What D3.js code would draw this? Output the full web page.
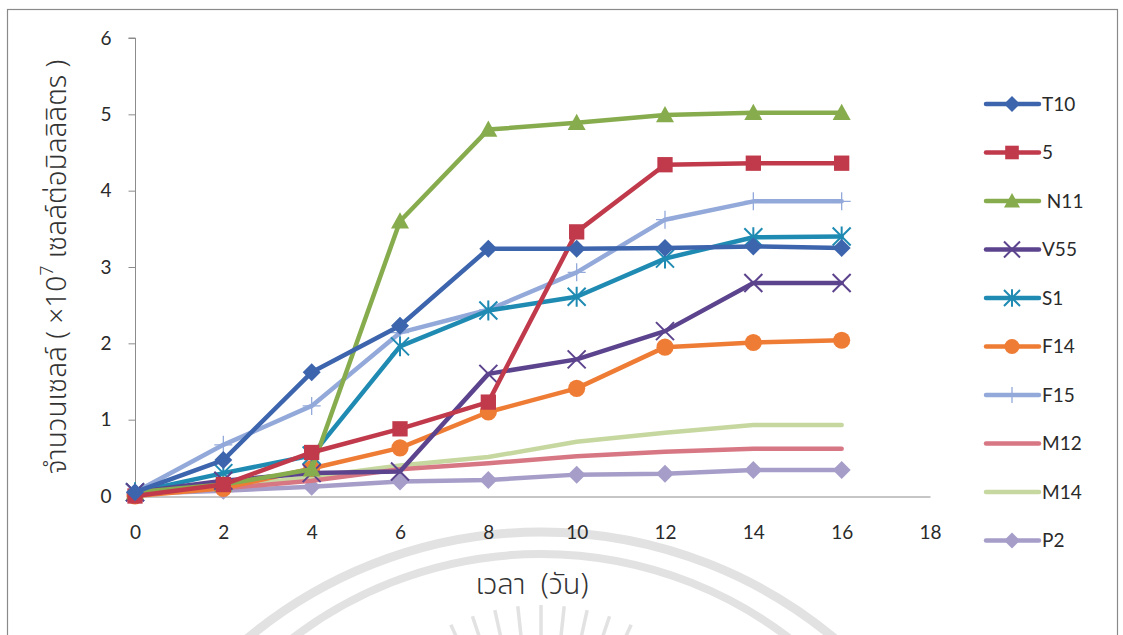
<!DOCTYPE html>
<html>
<head>
<meta charset="utf-8">
<script src="https://cdn.jsdelivr.net/npm/d3@7"></script>
<style>
  html, body { margin: 0; padding: 0; background: #ffffff; }
  svg { display: block; }
  text { font-family: Lato, "Open Sans", "Noto Sans", sans-serif; }
  .thai { font-family: "Noto Sans Thai", "Noto Sans Thai Looped", "Noto Sans", sans-serif; font-weight: 300; }
</style>
</head>
<body>
<svg id="chart" width="1123" height="635"></svg>
<script>
// Growth of each strain over time (cells x10^7 per mL)
const days = [0, 2, 4, 6, 8, 10, 12, 14, 16];
const xTicks = [0, 2, 4, 6, 8, 10, 12, 14, 16, 18];
const yTicks = [0, 1, 2, 3, 4, 5, 6];

const seriesNames = ["T10", "5", "N11", "V55", "S1", "F14", "F15", "M12", "M14", "P2"];
const legendLabels = ["T10", "5", " N11", "V55", "S1", "F14", "F15", "M12", "M14", "P2"];

const T10 = [0.05, 0.47, 1.62, 2.23, 3.24, 3.24, 3.25, 3.27, 3.25];
const S5  = [0.00, 0.15, 0.57, 0.88, 1.23, 3.46, 4.34, 4.36, 4.36];
const N11 = [0.05, 0.15, 0.35, 3.60, 4.80, 4.89, 4.99, 5.02, 5.02];
const V55 = [0.05, 0.20, 0.30, 0.32, 1.60, 1.79, 2.16, 2.79, 2.79];
const S1  = [0.05, 0.30, 0.53, 1.96, 2.43, 2.61, 3.11, 3.39, 3.40];
const F14 = [0.00, 0.10, 0.36, 0.63, 1.10, 1.41, 1.95, 2.01, 2.04];
const F15 = [0.05, 0.67, 1.18, 2.14, 2.44, 2.93, 3.62, 3.86, 3.86];
const M12 = [0.05, 0.10, 0.20, 0.35, 0.43, 0.52, 0.58, 0.62, 0.62];
const M14 = [0.05, 0.12, 0.25, 0.40, 0.51, 0.71, 0.83, 0.93, 0.93];
const P2  = [0.03, 0.07, 0.12, 0.19, 0.21, 0.28, 0.29, 0.34, 0.34];

const seriesValues = [T10, S5, N11, V55, S1, F14, F15, M12, M14, P2];
const seriesColors = ["#3d65ad", "#c03a4c", "#87ac4e", "#5c438d", "#1f8bb3",
                      "#ee7c35", "#93a9da", "#d87784", "#c6d8a0", "#a69ec9"];
const seriesMarkers = ["diamond", "square", "triangle", "cross", "asterisk",
                       "circle", "plus", "none", "none", "diamond"];

const svg = d3.select("#chart");

// faint seal watermark behind everything
const wm = svg.append("g").attr("fill", "none").attr("stroke", "#e2e2e2");
wm.append("circle").attr("cx", 541).attr("cy", 990).attr("r", 458).attr("stroke-width", 9);
wm.append("circle").attr("cx", 541).attr("cy", 962).attr("r", 408).attr("stroke-width", 8);
d3.range(-9, 10).forEach(i => {
  const a = (-90 + i * 6.2) * Math.PI / 180;
  const cx = 541, cy = 820;
  wm.append("line")
    .attr("x1", cx + Math.cos(a) * 180).attr("y1", cy + Math.sin(a) * 180)
    .attr("x2", cx + Math.cos(a) * 215).attr("y2", cy + Math.sin(a) * 215)
    .attr("stroke-width", 3.5);
});

// outer frame
svg.append("rect").attr("x", 7.5).attr("y", 9.5).attr("width", 1110).attr("height", 640)
  .attr("fill", "none").attr("stroke", "#8a8a8a").attr("stroke-width", 1.2);

const x = d3.scaleLinear().domain([0, 18]).range([135, 930]);
const y = d3.scaleLinear().domain([0, 6]).range([496, 38]);

// y axis
const yAxis = svg.append("g").attr("transform", "translate(135.5,0)")
  .call(d3.axisLeft(y).tickValues(yTicks).tickSize(7).tickPadding(17).tickFormat(d3.format("d")));
yAxis.select(".domain").attr("stroke", "#8c8c8c").attr("d", `M-7,${y(6)}H0V${y(0)}`);
yAxis.selectAll(".tick line").attr("stroke", "#8c8c8c");
yAxis.selectAll("text").attr("font-size", 19).attr("fill", "#2a2a2a");

// x axis
const xAxis = svg.append("g").attr("transform", "translate(0,496.5)")
  .call(d3.axisBottom(x).tickValues(xTicks).tickSize(0).tickPadding(29).tickFormat(d3.format("d")));
xAxis.select(".domain").attr("stroke", "#8c8c8c");
xAxis.selectAll("text").attr("font-size", 19).attr("fill", "#2a2a2a");

// axis titles
const yTitle = svg.append("text").attr("class", "thai")
  .attr("transform", `translate(58,${(y(0) + y(6)) / 2}) rotate(-90)`)
  .attr("text-anchor", "middle").attr("dominant-baseline", "middle")
  .attr("font-size", 28).attr("fill", "#333")
  .style("white-space", "pre");
yTitle.append("tspan").text("จำนวนเซลล์ ( ×10");
yTitle.append("tspan").attr("dy", -10).attr("font-size", 18).text("7");
yTitle.append("tspan").attr("dy", 10).text(" เซลล์ต่อมิลลิลิตร )");

svg.append("text").attr("class", "thai")
  .attr("x", 532).attr("y", 594).attr("text-anchor", "middle")
  .attr("font-size", 29).attr("fill", "#333")
  .style("white-space", "pre")
  .text("เวลา  (วัน)");

// marker drawing
function drawMarker(g, type, color, size) {
  const s = size;
  if (type === "diamond") {
    g.append("path").attr("d", `M0,${-s}L${s},0L0,${s}L${-s},0Z`).attr("fill", color);
  } else if (type === "square") {
    g.append("rect").attr("x", -s * 0.85).attr("y", -s * 0.85)
      .attr("width", s * 1.7).attr("height", s * 1.7).attr("fill", color);
  } else if (type === "triangle") {
    g.append("path").attr("d", `M0,${-s}L${s},${s * 0.8}L${-s},${s * 0.8}Z`).attr("fill", color);
  } else if (type === "circle") {
    g.append("circle").attr("r", s * 0.95).attr("fill", color);
  } else if (type === "cross") {
    g.append("path").attr("d", `M${-s},${-s}L${s},${s}M${-s},${s}L${s},${-s}`)
      .attr("stroke", color).attr("stroke-width", 2).attr("fill", "none");
  } else if (type === "asterisk") {
    g.append("path").attr("d", `M${-s},${-s}L${s},${s}M${-s},${s}L${s},${-s}M0,${-s * 1.1}V${s * 1.1}`)
      .attr("stroke", color).attr("stroke-width", 2).attr("fill", "none");
  } else if (type === "plus") {
    g.append("path").attr("d", `M0,${-s}V${s}M${-s},0H${s}`)
      .attr("stroke", color).attr("stroke-width", 1.3).attr("fill", "none");
  }
}

const line = d3.line().x(d => x(d[0])).y(d => y(d[1]));

// draw series in reverse so the first series sits on top
const plot = svg.append("g");
d3.range(seriesNames.length).reverse().forEach(i => {
  const pts = days.map((d, k) => [d, seriesValues[i][k]]);
  const g = plot.append("g").attr("class", "series");
  g.append("path").datum(pts).attr("d", line)
    .attr("fill", "none").attr("stroke", seriesColors[i])
    .attr("stroke-width", 4.5).attr("stroke-linejoin", "round").attr("stroke-linecap", "round");
  if (seriesMarkers[i] !== "none") {
    pts.forEach(p => {
      const m = g.append("g").attr("transform", `translate(${x(p[0])},${y(p[1])})`);
      drawMarker(m, seriesMarkers[i], seriesColors[i], 9);
    });
  }
});

// legend
const legend = svg.append("g");
seriesNames.forEach((name, i) => {
  const ly = 104 + i * 48.5;
  const g = legend.append("g").attr("transform", `translate(0,${ly})`);
  g.append("line").attr("x1", 986).attr("x2", 1039).attr("y1", 0).attr("y2", 0)
    .attr("stroke", seriesColors[i]).attr("stroke-width", 4.5).attr("stroke-linecap", "round");
  if (seriesMarkers[i] !== "none") {
    const m = g.append("g").attr("transform", "translate(1012,0)");
    drawMarker(m, seriesMarkers[i], seriesColors[i], 8);
  }
  g.append("text").attr("x", 1042).attr("y", 0).attr("dy", "0.35em")
    .attr("font-size", 19).attr("fill", "#2a2a2a")
    .style("white-space", "pre").text(legendLabels[i]);
});
</script>
</body>
</html>
